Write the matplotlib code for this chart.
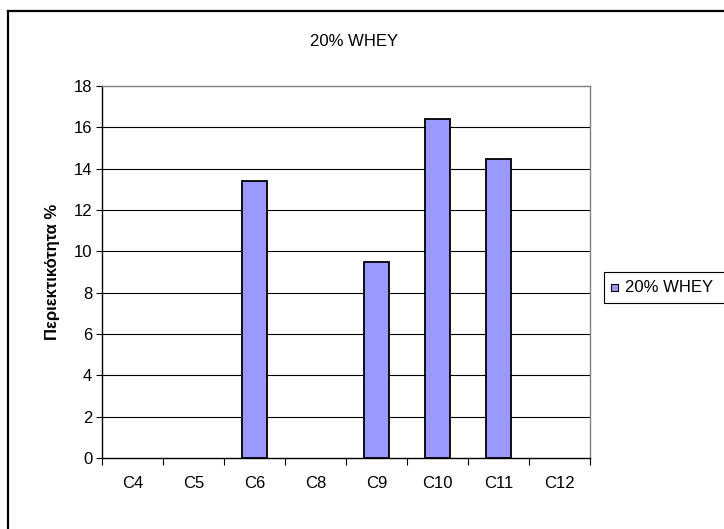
import matplotlib
matplotlib.use("Agg")
import matplotlib.pyplot as plt
from matplotlib.patches import Rectangle
from matplotlib.lines import Line2D

categories = ["C4", "C5", "C6", "C8", "C9", "C10", "C11", "C12"]
values = [0, 0, 13.4, 0, 9.5, 16.4, 14.45, 0]
series_name = "20% WHEY"
title = "20% WHEY"
ylabel = "Περιεκτικότητα %"
yticks = [0, 2, 4, 6, 8, 10, 12, 14, 16, 18]

plt.rcParams["font.family"] = ["Liberation Sans", "DejaVu Sans"]
FS = 12
plt.rcParams["font.size"] = FS

W, H = 724, 529
fig = plt.figure(figsize=(W / 100, H / 100), dpi=100)

def fx(px):
    return px / W

def fy(py):
    return 1 - py / H

# plot area
left, right, top, bottom = 102, 590, 86, 458
ax = fig.add_axes([fx(left), fy(bottom), fx(right - left), (bottom - top) / H])

bar_color = "#9999FF"
x = list(range(len(categories)))
# empty categories get no bar outline
bx = [i for i, v in zip(x, values) if v > 0]
bv = [v for v in values if v > 0]
ax.bar(bx, bv, width=0.4, color=bar_color, edgecolor="black", linewidth=1.3, zorder=3)

ax.set_xlim(-0.5, len(categories) - 0.5)
ax.set_ylim(0, 18)

# horizontal gridlines
for t in yticks[1:-1]:
    ax.axhline(t, color="black", linewidth=0.8, zorder=1)

ax.set_yticks(yticks)
ax.set_yticklabels([str(t) for t in yticks])
ax.tick_params(axis="y", direction="out", length=4, width=0.8, pad=3, labelsize=FS)

# category labels centred, tick marks between categories
ax.set_xticks(x)
ax.set_xticklabels(categories)
ax.set_xticks([i - 0.5 for i in range(len(categories) + 1)], minor=True)
ax.tick_params(axis="x", which="major", length=0, pad=13, labelsize=FS)
ax.tick_params(axis="x", which="minor", direction="out", length=5, width=0.8)

for side in ("top", "right"):
    ax.spines[side].set_color("#808080")
    ax.spines[side].set_linewidth(1.0)
for side in ("left", "bottom"):
    ax.spines[side].set_color("black")
    ax.spines[side].set_linewidth(1.0)

ax.set_ylabel(ylabel, fontweight="bold", fontsize=FS, labelpad=10)

# title
fig.text(fx(354), fy(42), title, ha="center", va="center", fontsize=FS)

# outer chart frame
fig.add_artist(Line2D([fx(8), fx(8)], [fy(11), fy(H + 5)], color="black", linewidth=1.6,
                      transform=fig.transFigure))
fig.add_artist(Line2D([fx(8), fx(W + 5)], [fy(11), fy(11)], color="black", linewidth=1.6,
                      transform=fig.transFigure))

# legend box
fig.add_artist(Rectangle((fx(604), fy(303)), fx(130), (303 - 272) / H,
                         transform=fig.transFigure, facecolor="white",
                         edgecolor="black", linewidth=0.8))
fig.add_artist(Rectangle((fx(611), fy(291)), fx(7), 7 / H,
                         transform=fig.transFigure, facecolor=bar_color,
                         edgecolor="black", linewidth=0.8))
fig.text(fx(625), fy(287.5), series_name, ha="left", va="center", fontsize=FS)

fig.savefig("out.png", dpi=100)
